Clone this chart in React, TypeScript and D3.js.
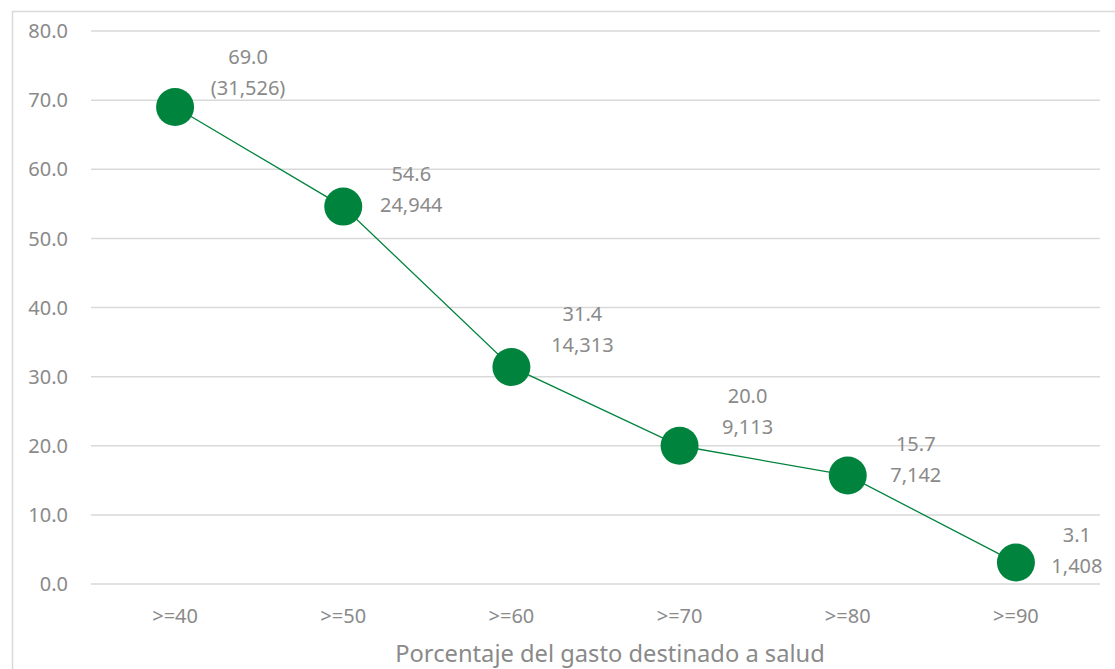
import React from "react";
import * as d3 from "d3";

// Share of spending devoted to health (thresholds) and the resulting percentages / household counts
const categories: string[] = [">=40", ">=50", ">=60", ">=70", ">=80", ">=90"];
const percentages: number[] = [69.0, 54.6, 31.4, 20.0, 15.7, 3.1];
const countLabels: string[] = ["(31,526)", "24,944", "14,313", "9,113", "7,142", "1,408"];
const yTicks: number[] = [0, 10, 20, 30, 40, 50, 60, 70, 80];

// Placement of each two-line data label, relative to its marker (px)
const labelShiftX: number[] = [73, 68, 71, 68, 68, 61];
const labelLift: number[] = [-50, -33, -53, -50, -32, -28];

const W = 1115;
const H = 669;
const margin = { left: 91, right: 15, top: 31, bottom: 85 };
const FONT = "'Noto Sans', 'Open Sans', sans-serif";
const TEXT = "#8a8a8a";
const GREEN = "#00843d";

export default function App() {
  const x = d3
    .scaleBand<string>()
    .domain(categories)
    .range([margin.left, W - margin.right])
    .paddingInner(0)
    .paddingOuter(0);
  const y = d3.scaleLinear().domain([0, 80]).range([H - margin.bottom, margin.top]);
  const cx = (c: string) => (x(c) ?? 0) + x.bandwidth() / 2;

  const line = d3
    .line<number>()
    .x((_, i) => cx(categories[i]))
    .y((d) => y(d));

  return (
    <svg
      width={W}
      height={H}
      style={{ position: "fixed", left: 0, top: 0, background: "#fff" }}
      fontFamily={FONT}
    >
      <rect x={12.5} y={11.5} width={W + 20} height={H + 20} fill="#fff" stroke="#d9d9d9" strokeWidth={1.5} />

      {yTicks.map((t) => (
        <g key={t}>
          <line x1={margin.left} x2={W - margin.right} y1={y(t)} y2={y(t)} stroke="#d9d9d9" strokeWidth={1.5} />
          <text x={68} y={y(t)} dy="0.36em" textAnchor="end" fontSize={20} fill={TEXT}>
            {t.toFixed(1)}
          </text>
        </g>
      ))}

      {categories.map((c) => (
        <text key={c} x={cx(c)} y={616} dy="0.36em" textAnchor="middle" fontSize={20} fill={TEXT}>
          {c}
        </text>
      ))}

      <text x={610} y={653} dy="0.36em" textAnchor="middle" fontSize={23.7} fill={TEXT}>
        Porcentaje del gasto destinado a salud
      </text>

      <path d={line(percentages) ?? ""} fill="none" stroke={GREEN} strokeWidth={1.3} />

      {percentages.map((v, i) => (
        <circle key={i} cx={cx(categories[i])} cy={y(v)} r={19} fill={GREEN} />
      ))}

      {percentages.map((v, i) => {
        const px = cx(categories[i]) + labelShiftX[i];
        const py = y(v) + labelLift[i];
        return (
          <text key={i} textAnchor="middle" fontSize={20} fill={TEXT}>
            <tspan x={px} y={py} dy="0.36em">
              {v.toFixed(1)}
            </tspan>
            <tspan x={px} y={py + 31} dy="0.36em">
              {countLabels[i]}
            </tspan>
          </text>
        );
      })}
    </svg>
  );
}
